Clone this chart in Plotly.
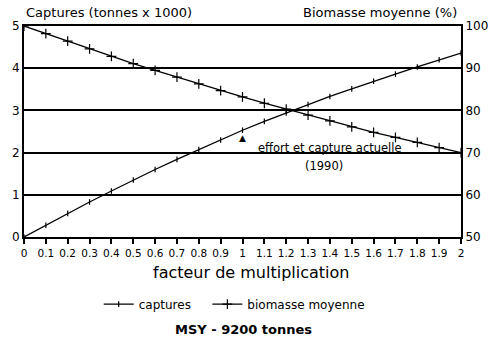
import plotly.graph_objects as go

facteur = [0.0, 0.1, 0.2, 0.3, 0.4, 0.5, 0.6, 0.7, 0.8, 0.9, 1.0,
           1.1, 1.2, 1.3, 1.4, 1.5, 1.6, 1.7, 1.8, 1.9, 2.0]
captures = [0.0, 0.28, 0.56, 0.83, 1.09, 1.35, 1.60, 1.84, 2.07, 2.30, 2.53,
            2.74, 2.94, 3.14, 3.33, 3.51, 3.69, 3.86, 4.03, 4.20, 4.36]
biomasse = [100.0, 98.2, 96.4, 94.6, 92.8, 91.1, 89.5, 87.9, 86.3, 84.7, 83.2,
            81.7, 80.3, 78.9, 77.5, 76.1, 74.8, 73.6, 72.4, 71.2, 70.0]
x_ticks = [0.0, 0.1, 0.2, 0.3, 0.4, 0.5, 0.6, 0.7, 0.8, 0.9, 1.0,
           1.1, 1.2, 1.3, 1.4, 1.5, 1.6, 1.7, 1.8, 1.9, 2.0]
x_ticktext = ["0", "0.1", "0.2", "0.3", "0.4", "0.5", "0.6", "0.7", "0.8", "0.9", "1",
              "1.1", "1.2", "1.3", "1.4", "1.5", "1.6", "1.7", "1.8", "1.9", "2"]

FONT = "DejaVu Sans, Verdana, sans-serif"

fig = go.Figure()
fig.add_trace(go.Scatter(
    x=facteur, y=captures, name="captures\u00a0\u00a0\u00a0", mode="lines+markers",
    line=dict(color="black", width=1.3),
    marker=dict(symbol="line-ns", size=4, line=dict(color="black", width=1.2)),
))
fig.add_trace(go.Scatter(
    x=facteur, y=biomasse, name="biomasse moyenne", mode="lines+markers",
    yaxis="y2",
    line=dict(color="black", width=1.3),
    marker=dict(symbol="cross-thin", size=7, line=dict(color="black", width=1.2)),
))

fig.update_layout(
    width=500, height=341,
    margin=dict(l=23, r=35, t=26, b=104),
    paper_bgcolor="white", plot_bgcolor="white",
    font=dict(family=FONT, color="black", size=12),
    showlegend=True,
    legend=dict(orientation="h", x=0.171, y=-0.318, xanchor="left", yanchor="middle",
                font=dict(size=12, family=FONT), bgcolor="rgba(0,0,0,0)",
                itemwidth=30, tracegroupgap=0),
    xaxis=dict(range=[0, 2], tickvals=x_ticks, ticktext=x_ticktext,
               showgrid=False, zeroline=False, showline=True, linecolor="black",
               linewidth=2, mirror=True, ticks="outside", ticklen=5, tickwidth=2,
               tickcolor="black", tickfont=dict(size=10.5), tickangle=0),
    yaxis=dict(range=[0, 5], dtick=1, showgrid=True, gridcolor="black", gridwidth=2,
               zeroline=False, showline=True, linecolor="black", linewidth=2,
               ticks="", tickfont=dict(size=12)),
    yaxis2=dict(range=[50, 100], dtick=10, overlaying="y", side="right",
                showgrid=False, zeroline=False, showline=True, linecolor="black",
                linewidth=2, ticks="", tickfont=dict(size=12)),
)

anns = [
    dict(text="Captures (tonnes x 1000)", x=0, y=1.066, xref="paper", yref="paper",
         xanchor="left", yanchor="middle", showarrow=False, font=dict(size=13)),
    dict(text="Biomasse moyenne (%)", x=0.995, y=1.066, xref="paper", yref="paper",
         xanchor="right", yanchor="middle", showarrow=False, font=dict(size=13)),
    dict(text="facteur de multiplication", x=0.52, y=-0.166, xref="paper", yref="paper",
         xanchor="center", yanchor="middle", showarrow=False, font=dict(size=16)),
    dict(text="<b>MSY - 9200 tonnes</b>", x=0.502, y=-0.44, xref="paper", yref="paper",
         xanchor="center", yanchor="middle", showarrow=False, font=dict(size=13)),
    dict(text="▲", x=1.0, y=2.35, xref="x", yref="y", xanchor="center", yanchor="middle",
         showarrow=False, font=dict(size=9)),
    dict(text="effort et capture actuelle", x=1.063, y=2.12, xref="x", yref="y",
         xanchor="left", yanchor="middle", showarrow=False, font=dict(size=11.5)),
    dict(text="(1990)", x=1.375, y=1.69, xref="x", yref="y",
         xanchor="center", yanchor="middle", showarrow=False, font=dict(size=11.5)),
]
fig.update_layout(annotations=anns)

fig.write_html("out.html")
